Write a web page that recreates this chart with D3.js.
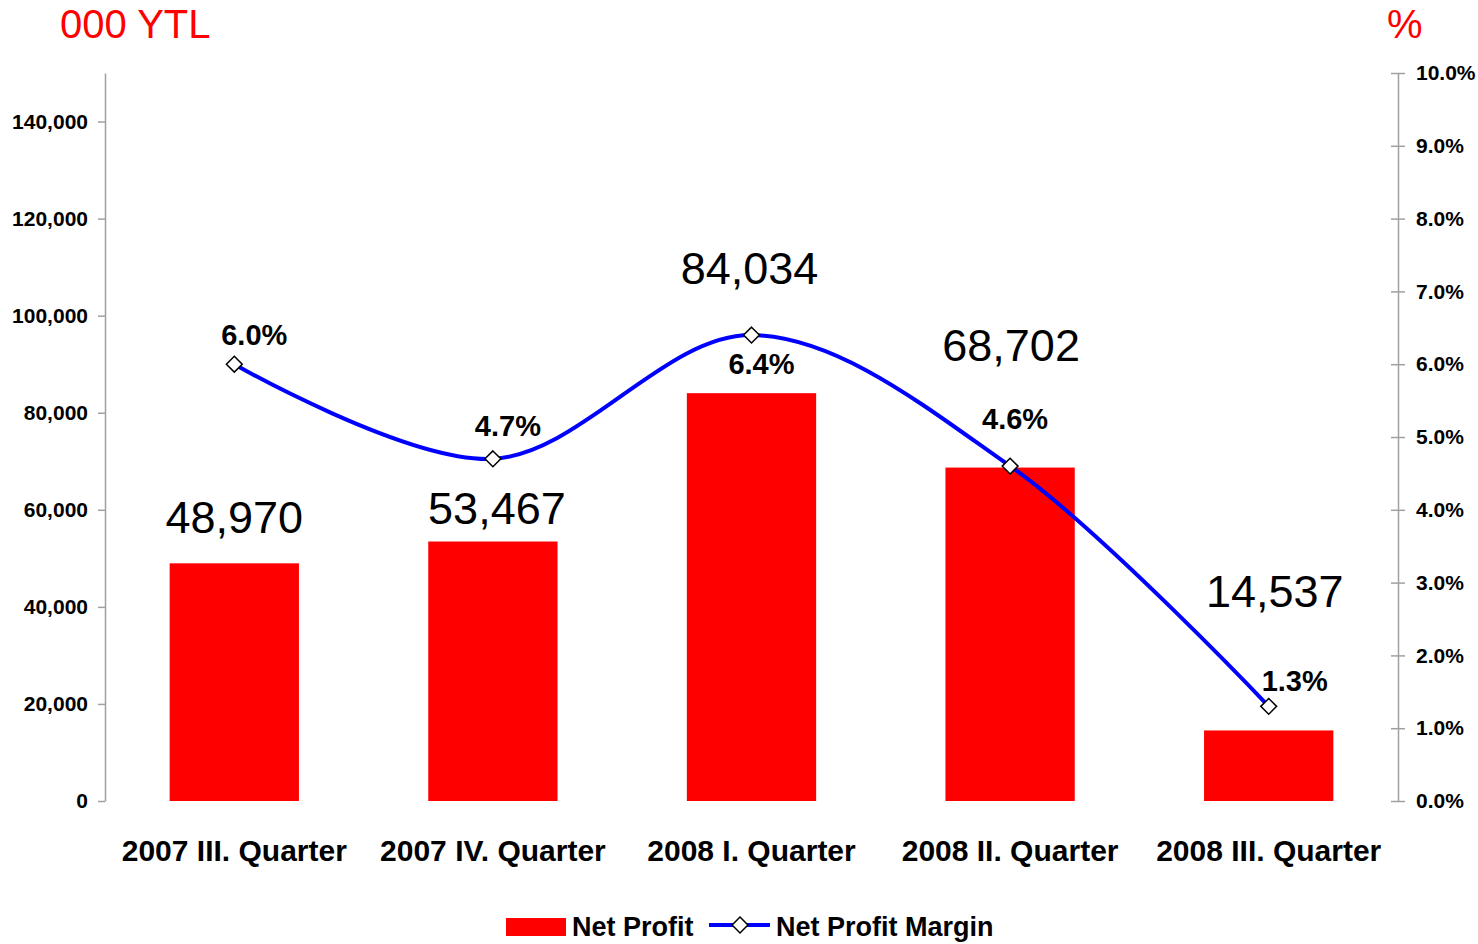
<!DOCTYPE html>
<html>
<head>
<meta charset="utf-8">
<script src="https://cdn.jsdelivr.net/npm/d3@7"></script>
<style>
  body { margin: 0; background: #fff; }
  text { font-family: "Liberation Sans", Arial, sans-serif; }
</style>
</head>
<body>
<div id="chart"></div>
<script>
// data
const quarters = ["2007 III. Quarter", "2007 IV. Quarter", "2008 I. Quarter", "2008 II. Quarter", "2008 III. Quarter"];
const netProfit = [48970, 53467, 84034, 68702, 14537];
const netMargin = [0.060, 0.047, 0.064, 0.046, 0.013];
const leftTicks = [0, 20000, 40000, 60000, 80000, 100000, 120000, 140000];
const rightTicks = [0, 0.01, 0.02, 0.03, 0.04, 0.05, 0.06, 0.07, 0.08, 0.09, 0.10];

// label nudges (like hand-moved labels in the original)
const barLabelDx = [0, 4, -2, 1, 6];
const barLabelDy = [-46, -33, -125, -122, -139];
const pctLabelDx = [20, 15, 10, 5, 26];
const pctLabelDy = [-29, -33, 29, -47, -25];

const width = 1478, height = 944;
const margin = { top: 73, right: 80, bottom: 143, left: 105 };

const svg = d3.select("#chart").append("svg")
  .attr("width", width)
  .attr("height", height);

const x = d3.scaleBand()
  .domain(quarters)
  .range([margin.left, width - margin.right])
  .paddingInner(0.5)
  .paddingOuter(0.25);

const yLeft = d3.scaleLinear().domain([0, 150000]).range([height - margin.bottom, margin.top]);
const yRight = d3.scaleLinear().domain([0, 0.10]).range([height - margin.bottom, margin.top]);

const cx = (d) => x(d) + x.bandwidth() / 2;

// left axis
const gl = svg.append("g")
  .attr("transform", `translate(${margin.left},0)`)
  .call(d3.axisLeft(yLeft).tickValues(leftTicks).tickFormat(d3.format(",")).tickSize(7).tickPadding(10).tickSizeOuter(0));
gl.select(".domain").attr("stroke", "#a0a0a0").attr("stroke-width", 1.5);
gl.selectAll(".tick line").attr("stroke", "#a0a0a0").attr("stroke-width", 1.5);
gl.selectAll(".tick text")
  .attr("fill", "#000")
  .style("font-size", "21px")
  .style("font-weight", "bold");

// right axis
const xr = width - margin.right;
const gr = svg.append("g")
  .attr("transform", `translate(${xr},0)`)
  .call(d3.axisRight(yRight).tickValues(rightTicks).tickFormat(d3.format(".1%")).tickSize(7).tickPadding(11).tickSizeOuter(0));
gr.select(".domain").attr("stroke", "#a0a0a0").attr("stroke-width", 1.5);
gr.selectAll(".tick line").attr("x1", -7).attr("stroke", "#a0a0a0").attr("stroke-width", 1.5);
gr.selectAll(".tick text")
  .attr("fill", "#000")
  .style("font-size", "21px")
  .style("font-weight", "bold");

// category labels
const gx = svg.append("g")
  .attr("transform", `translate(0,${height - margin.bottom})`)
  .call(d3.axisBottom(x).tickSize(0).tickPadding(39));
gx.select(".domain").remove();
gx.selectAll(".tick text")
  .attr("fill", "#000")
  .style("font-size", "30px")
  .style("font-weight", "bold");

// bars
svg.selectAll(".bar")
  .data(quarters)
  .join("rect")
  .attr("class", "bar")
  .attr("x", (d) => x(d))
  .attr("y", (d, i) => yLeft(netProfit[i]))
  .attr("width", x.bandwidth())
  .attr("height", (d, i) => yLeft(0) - yLeft(netProfit[i]))
  .attr("fill", "#ff0000");

// bar labels
svg.selectAll(".bar-label")
  .data(quarters)
  .join("text")
  .attr("class", "bar-label")
  .attr("x", (d, i) => cx(d) + barLabelDx[i])
  .attr("y", (d, i) => yLeft(netProfit[i]) + barLabelDy[i])
  .attr("text-anchor", "middle")
  .attr("dominant-baseline", "central")
  .style("font-size", "45px")
  .text((d, i) => d3.format(",")(netProfit[i]));

// margin line
const line = d3.line()
  .x((d, i) => cx(quarters[i]))
  .y((d) => yRight(d))
  .curve(d3.curveCatmullRom.alpha(0.5));

svg.append("path")
  .datum(netMargin)
  .attr("d", line)
  .attr("fill", "none")
  .attr("stroke", "#0000ff")
  .attr("stroke-width", 4);

const diamond = d3.symbol().type(d3.symbolDiamond2).size(160);

svg.selectAll(".marker")
  .data(netMargin)
  .join("path")
  .attr("class", "marker")
  .attr("transform", (d, i) => `translate(${cx(quarters[i])},${yRight(d)})`)
  .attr("d", diamond)
  .attr("fill", "#fff")
  .attr("stroke", "#000")
  .attr("stroke-width", 1.5);

svg.selectAll(".pct-label")
  .data(netMargin)
  .join("text")
  .attr("class", "pct-label")
  .attr("x", (d, i) => cx(quarters[i]) + pctLabelDx[i])
  .attr("y", (d, i) => yRight(d) + pctLabelDy[i])
  .attr("text-anchor", "middle")
  .attr("dominant-baseline", "central")
  .style("font-size", "29px")
  .style("font-weight", "bold")
  .text((d) => d3.format(".1%")(d));

// unit titles
svg.append("text")
  .attr("x", 60)
  .attr("y", 38)
  .attr("fill", "#ff0000")
  .style("font-size", "40px")
  .text("000 YTL");

svg.append("text")
  .attr("x", 1387)
  .attr("y", 38)
  .attr("fill", "#ff0000")
  .style("font-size", "40px")
  .text("%");

// legend
const legend = svg.append("g");
legend.append("rect")
  .attr("x", 506).attr("y", 918)
  .attr("width", 60).attr("height", 18)
  .attr("fill", "#ff0000");
legend.append("text")
  .attr("x", 572).attr("y", 936)
  .style("font-size", "27px")
  .style("font-weight", "bold")
  .text("Net Profit");
legend.append("line")
  .attr("x1", 709).attr("x2", 770)
  .attr("y1", 925).attr("y2", 925)
  .attr("stroke", "#0000ff")
  .attr("stroke-width", 4);
legend.append("path")
  .attr("transform", "translate(740,925)")
  .attr("d", diamond)
  .attr("fill", "#fff")
  .attr("stroke", "#000")
  .attr("stroke-width", 1.5);
legend.append("text")
  .attr("x", 776).attr("y", 936)
  .style("font-size", "27px")
  .style("font-weight", "bold")
  .text("Net Profit Margin");
</script>
</body>
</html>
